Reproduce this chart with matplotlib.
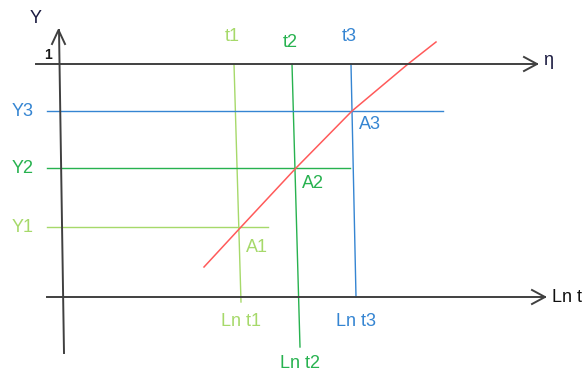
import numpy as np
import matplotlib.pyplot as plt

plt.rcParams['font.family'] = ['Liberation Sans', 'DejaVu Sans']

# colours
LGREEN = "#a6d96a"
GREEN = "#27b24f"
BLUE = "#3585d2"
RED = "#ff5a5a"
DARK = "#404040"

# axes (pixel coordinates of the sketch)
yAxisX = [59, 64]
yAxisY = [30, 353]
topY = 64          # eta line
topX = [36, 537]
botY = 297         # Ln t axis
botX = [47, 545]

# horizontal levels Y1..Y3
levelNames = ["Y1", "Y2", "Y3"]
levelY = [227, 168, 111]
levelEnd = [268, 350, 443]
levelColors = [LGREEN, GREEN, BLUE]

# vertical lines t1..t3
tNames = ["t1", "t2", "t3"]
tTopX = [234, 292, 351]
tBotX = [241, 300, 356]
tBotY = [302, 347, 297]
tLabelY = [36, 42, 36]
lnLabelY = [322, 364, 322]

# red curve
curveX = [204, 241, 296, 352, 408, 436]
curveY = [267, 227, 168, 111, 64, 42]

# intersection labels
aNames = ["A1", "A2", "A3"]
aX = [246, 302, 359]
aY = [247, 183, 124]

fig = plt.figure(figsize=(5.87, 3.74), dpi=100)
ax = fig.add_axes([0, 0, 1, 1])
ax.set_xlim(0, 587)
ax.set_ylim(374, 0)
ax.axis("off")

fs = 13

for i in range(3):
    c = levelColors[i]
    ax.plot([47, levelEnd[i]], [levelY[i], levelY[i]], color=c, lw=1.0)
    ax.text(34, levelY[i], levelNames[i], color=c, fontsize=fs, ha="right", va="center")
    ax.plot([tTopX[i], tBotX[i]], [topY, tBotY[i]], color=c, lw=1.0)
    ax.text(tTopX[i] - 2, tLabelY[i], tNames[i], color=c, fontsize=fs, ha="center", va="center")
    ax.text(tBotX[i], lnLabelY[i], "Ln " + tNames[i], color=c, fontsize=fs, ha="center", va="center")
    ax.text(aX[i], aY[i], aNames[i], color=c, fontsize=fs, ha="left", va="center")

ax.plot(curveX, curveY, color=RED, lw=1.1)

# axes with open arrow heads
ax.plot(yAxisX, yAxisY, color=DARK, lw=1.4)
ax.plot([52, 58.5, 65], [44, 30, 44], color=DARK, lw=1.4)
ax.plot(topX, [topY, topY], color=DARK, lw=1.4)
ax.plot([524, 537, 524], [57, topY, 71], color=DARK, lw=1.4)
ax.plot(botX, [botY, botY], color=DARK, lw=1.4)
ax.plot([532, 545, 532], [290, botY, 304], color=DARK, lw=1.4)

ax.text(36, 18, "Y", color="#1a1a40", fontsize=fs, ha="center", va="center")
ax.text(48, 55, "1", color="#1a1a1a", fontsize=10, ha="center", va="center", fontweight="bold")
ax.text(543, 60, "η", color="#1a1a40", fontsize=fs, ha="left", va="center")
ax.text(552, 297, "Ln t", color="#101010", fontsize=fs, ha="left", va="center")

plt.savefig("out.png", dpi=100)
